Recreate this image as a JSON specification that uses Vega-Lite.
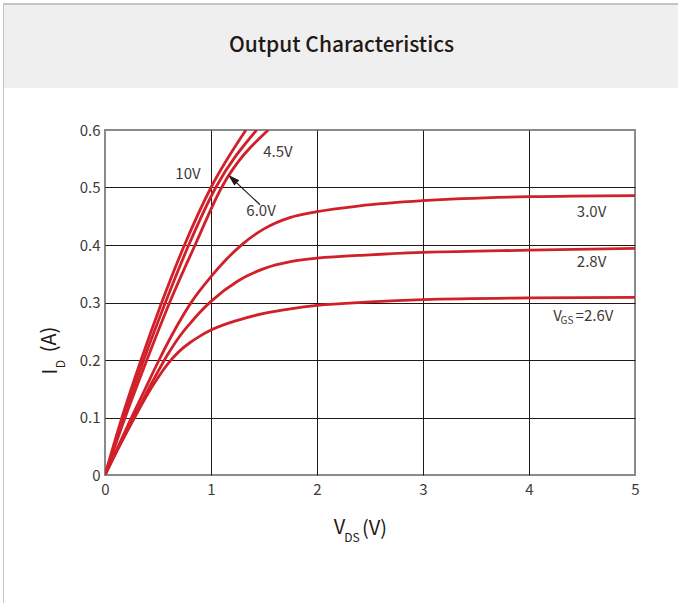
{
  "$schema": "https://vega.github.io/schema/vega-lite/v6.json",
  "padding": {"left": 3, "top": 3, "right": 0, "bottom": 0},
  "background": "white",
  "bounds": "flush",
  "spacing": 0,
  "config": {"font": "Noto Sans CJK SC", "view": {"stroke": null}},
  "datasets": {
    "blank": [{"t": ""}],
    "curves": [
      {"s": "2.6V", "vds": 0, "id": 0}, {"s": "2.6V", "vds": 0.15, "id": 0.055}, {"s": "2.6V", "vds": 0.3, "id": 0.107}, {"s": "2.6V", "vds": 0.45, "id": 0.155}, {"s": "2.6V", "vds": 0.6, "id": 0.195}, {"s": "2.6V", "vds": 0.7, "id": 0.215}, {"s": "2.6V", "vds": 0.8, "id": 0.23}, {"s": "2.6V", "vds": 0.9, "id": 0.242}, {"s": "2.6V", "vds": 1.0, "id": 0.252}, {"s": "2.6V", "vds": 1.25, "id": 0.269}, {"s": "2.6V", "vds": 1.5, "id": 0.281}, {"s": "2.6V", "vds": 1.75, "id": 0.289}, {"s": "2.6V", "vds": 2.0, "id": 0.295}, {"s": "2.6V", "vds": 2.5, "id": 0.301}, {"s": "2.6V", "vds": 3.0, "id": 0.305}, {"s": "2.6V", "vds": 4.0, "id": 0.308}, {"s": "2.6V", "vds": 5.0, "id": 0.309},
      {"s": "2.8V", "vds": 0, "id": 0}, {"s": "2.8V", "vds": 0.15, "id": 0.057}, {"s": "2.8V", "vds": 0.3, "id": 0.11}, {"s": "2.8V", "vds": 0.45, "id": 0.163}, {"s": "2.8V", "vds": 0.6, "id": 0.212}, {"s": "2.8V", "vds": 0.7, "id": 0.24}, {"s": "2.8V", "vds": 0.8, "id": 0.263}, {"s": "2.8V", "vds": 0.9, "id": 0.284}, {"s": "2.8V", "vds": 1.0, "id": 0.302}, {"s": "2.8V", "vds": 1.25, "id": 0.337}, {"s": "2.8V", "vds": 1.5, "id": 0.359}, {"s": "2.8V", "vds": 1.75, "id": 0.371}, {"s": "2.8V", "vds": 2.0, "id": 0.377}, {"s": "2.8V", "vds": 2.5, "id": 0.383}, {"s": "2.8V", "vds": 3.0, "id": 0.387}, {"s": "2.8V", "vds": 4.0, "id": 0.391}, {"s": "2.8V", "vds": 5.0, "id": 0.394},
      {"s": "3.0V", "vds": 0, "id": 0}, {"s": "3.0V", "vds": 0.125, "id": 0.05}, {"s": "3.0V", "vds": 0.25, "id": 0.1}, {"s": "3.0V", "vds": 0.38, "id": 0.15}, {"s": "3.0V", "vds": 0.51, "id": 0.2}, {"s": "3.0V", "vds": 0.66, "id": 0.253}, {"s": "3.0V", "vds": 0.82, "id": 0.302}, {"s": "3.0V", "vds": 1.0, "id": 0.345}, {"s": "3.0V", "vds": 1.15, "id": 0.376}, {"s": "3.0V", "vds": 1.3, "id": 0.402}, {"s": "3.0V", "vds": 1.5, "id": 0.428}, {"s": "3.0V", "vds": 1.75, "id": 0.448}, {"s": "3.0V", "vds": 2.0, "id": 0.458}, {"s": "3.0V", "vds": 2.4, "id": 0.468}, {"s": "3.0V", "vds": 3.0, "id": 0.477}, {"s": "3.0V", "vds": 4.0, "id": 0.484}, {"s": "3.0V", "vds": 5.0, "id": 0.486},
      {"s": "4.5V", "vds": 0, "id": 0}, {"s": "4.5V", "vds": 0.19, "id": 0.1}, {"s": "4.5V", "vds": 0.395, "id": 0.2}, {"s": "4.5V", "vds": 0.61, "id": 0.3}, {"s": "4.5V", "vds": 0.85, "id": 0.4}, {"s": "4.5V", "vds": 1.1, "id": 0.5}, {"s": "4.5V", "vds": 1.54, "id": 0.6},
      {"s": "6.0V", "vds": 0, "id": 0}, {"s": "6.0V", "vds": 0.175, "id": 0.1}, {"s": "6.0V", "vds": 0.365, "id": 0.2}, {"s": "6.0V", "vds": 0.57, "id": 0.3}, {"s": "6.0V", "vds": 0.79, "id": 0.4}, {"s": "6.0V", "vds": 1.045, "id": 0.5}, {"s": "6.0V", "vds": 1.43, "id": 0.6},
      {"s": "10V", "vds": 0, "id": 0}, {"s": "10V", "vds": 0.16, "id": 0.1}, {"s": "10V", "vds": 0.34, "id": 0.2}, {"s": "10V", "vds": 0.535, "id": 0.3}, {"s": "10V", "vds": 0.75, "id": 0.4}, {"s": "10V", "vds": 1.0, "id": 0.5}, {"s": "10V", "vds": 1.33, "id": 0.6}
    ],
    "labels": [
      {"vds": 0.783, "id": 0.523, "t": "10V"},
      {"vds": 1.632, "id": 0.561, "t": "4.5V"},
      {"vds": 1.472, "id": 0.459, "t": "6.0V"},
      {"vds": 4.59, "id": 0.457, "t": "3.0V"},
      {"vds": 4.59, "id": 0.370, "t": "2.8V"},
      {"vds": 4.269, "id": 0.277, "t": "V"},
      {"vds": 4.618, "id": 0.277, "t": "=2.6V"}
    ],
    "subs": [
      {"vds": 4.358, "id": 0.267, "t": "GS"}
    ],
    "arrow": [
      {"vds": 1.462, "id": 0.470, "vds2": 1.202, "id2": 0.515}
    ]
  },
  "vconcat": [
    {
      "width": 676,
      "height": 1,
      "data": {"name": "blank"},
      "mark": {"type": "rect", "color": "#c4c4c4"}
    },
    {
      "spacing": 0,
      "bounds": "flush",
      "hconcat": [
        {
          "width": 1,
          "height": 599,
          "data": {"name": "blank"},
          "mark": {"type": "rect", "color": "#c4c4c4"}
        },
        {
          "spacing": 42,
          "bounds": "flush",
          "vconcat": [
            {
              "width": 675,
              "height": 84,
              "view": {"fill": "#efefef", "stroke": null},
              "data": {"values": [{"t": "Output Characteristics"}]},
              "mark": {"type": "text", "fontSize": 21, "fontWeight": 500, "color": "#231815", "font": "Noto Sans CJK SC"},
              "encoding": {"text": {"field": "t"}}
            },
            {
              "spacing": 0,
              "bounds": "flush",
              "hconcat": [
                {
                  "width": 101,
                  "height": 345,
                  "data": {"name": "blank"},
                  "mark": {"type": "rect", "opacity": 0}
                },
                {
                  "width": 530,
                  "height": 345,
                  "view": {"stroke": "#8a8a8a", "strokeWidth": 2, "fill": "white"},
                  "resolve": {"axis": {"x": "independent", "y": "independent"}},
                  "layer": [
                    {
                      "data": {"name": "curves"},
                      "mark": {"type": "line", "interpolate": "monotone", "color": "#d0202a", "strokeWidth": 2.8, "clip": true},
                      "encoding": {
                        "x": {"field": "vds", "type": "quantitative", "scale": {"domain": [0, 5], "nice": false, "zero": false},
                          "axis": {"orient": "bottom", "values": [0, 1, 2, 3, 4, 5], "title": "V", "titleX": 234, "titleY": 52.5, "titleAlign": "center", "titleBaseline": "middle", "titleAngle": 0, "titleFontSize": 20, "titleFontWeight": "normal", "titleColor": "#231815",
                            "labelFontSize": 15, "labelColor": "#3e3a39", "labelPadding": 7, "labelDx": -3, "labelFlush": false, "labelOverlap": false, "ticks": false, "domain": false,
                            "grid": true, "gridColor": "#231815", "gridWidth": 1, "gridOpacity": {"condition": {"test": "datum.value == 0 || datum.value == 5", "value": 0}, "value": 1}}},
                        "y": {"field": "id", "type": "quantitative", "scale": {"domain": [0, 0.6], "nice": false, "zero": false},
                          "axis": {"orient": "left", "values": [0, 0.1, 0.2, 0.3, 0.4, 0.5, 0.6], "labelExpr": "datum.value == 0 ? '0' : format(datum.value, '.1f')", "title": "I", "titleX": -54.5, "titleY": 241, "titleAlign": "center", "titleBaseline": "middle", "titleAngle": 270, "titleFontSize": 20, "titleFontWeight": "normal", "titleColor": "#231815",
                            "labelFontSize": 15, "labelColor": "#3e3a39", "labelPadding": 5, "labelFlush": false, "labelOverlap": false, "ticks": false, "domain": false,
                            "grid": true, "gridColor": "#231815", "gridWidth": 1, "gridOpacity": {"condition": {"test": "datum.value == 0 || datum.value > 0.59", "value": 0}, "value": 1}}},
                        "detail": {"field": "s"}
                      }
                    },
                    {
                      "data": {"name": "labels"},
                      "mark": {"type": "text", "fontSize": 15, "color": "#3e3a39", "align": "center", "baseline": "middle"},
                      "encoding": {
                        "x": {"field": "vds", "type": "quantitative", "scale": {"domain": [0, 5], "nice": false, "zero": false},
                          "axis": {"orient": "bottom", "labels": false, "ticks": false, "domain": false, "grid": false, "title": "DS", "titleX": 246.5, "titleY": 62.5, "titleAlign": "center", "titleBaseline": "middle", "titleAngle": 0, "titleFontSize": 12, "titleFontWeight": "normal", "titleColor": "#231815"}},
                        "y": {"field": "id", "type": "quantitative", "scale": {"domain": [0, 0.6], "nice": false, "zero": false},
                          "axis": {"orient": "left", "labels": false, "ticks": false, "domain": false, "grid": false, "title": "D", "titleX": -44.5, "titleY": 233.5, "titleAlign": "center", "titleBaseline": "middle", "titleAngle": 270, "titleFontSize": 12, "titleFontWeight": "normal", "titleColor": "#231815"}},
                        "text": {"field": "t"}
                      }
                    },
                    {
                      "data": {"name": "subs"},
                      "mark": {"type": "text", "fontSize": 10, "color": "#3e3a39", "align": "center", "baseline": "middle"},
                      "encoding": {
                        "x": {"field": "vds", "type": "quantitative", "scale": {"domain": [0, 5], "nice": false, "zero": false},
                          "axis": {"orient": "bottom", "labels": false, "ticks": false, "domain": false, "grid": false, "title": "(V)", "titleX": 269, "titleY": 53, "titleAlign": "center", "titleBaseline": "middle", "titleAngle": 0, "titleFontSize": 20, "titleFontWeight": "normal", "titleColor": "#231815"}},
                        "y": {"field": "id", "type": "quantitative", "scale": {"domain": [0, 0.6], "nice": false, "zero": false},
                          "axis": {"orient": "left", "labels": false, "ticks": false, "domain": false, "grid": false, "title": "(A)", "titleX": -55.5, "titleY": 209, "titleAlign": "center", "titleBaseline": "middle", "titleAngle": 270, "titleFontSize": 20, "titleFontWeight": "normal", "titleColor": "#231815"}},
                        "text": {"field": "t"}
                      }
                    },
                    {
                      "data": {"name": "arrow"},
                      "mark": {"type": "rule", "color": "#231815", "strokeWidth": 1.2},
                      "encoding": {
                        "x": {"field": "vds", "type": "quantitative", "scale": {"domain": [0, 5], "nice": false, "zero": false}, "axis": null},
                        "y": {"field": "id", "type": "quantitative", "scale": {"domain": [0, 0.6], "nice": false, "zero": false}, "axis": null},
                        "x2": {"field": "vds2"},
                        "y2": {"field": "id2"}
                      }
                    },
                    {
                      "data": {"name": "arrow"},
                      "mark": {"type": "point", "shape": "M0,-1L0.6,1L-0.6,1Z", "filled": true, "size": 144, "angle": 313, "color": "#231815", "opacity": 1},
                      "encoding": {
                        "x": {"field": "vds2", "type": "quantitative", "scale": {"domain": [0, 5], "nice": false, "zero": false}, "axis": null},
                        "y": {"field": "id2", "type": "quantitative", "scale": {"domain": [0, 0.6], "nice": false, "zero": false}, "axis": null}
                      }
                    }
                  ]
                }
              ]
            }
          ]
        }
      ]
    },
    {
      "width": 676,
      "height": 1,
      "data": {"name": "blank"},
      "mark": {"type": "rect", "color": "#c4c4c4"}
    }
  ]
}
